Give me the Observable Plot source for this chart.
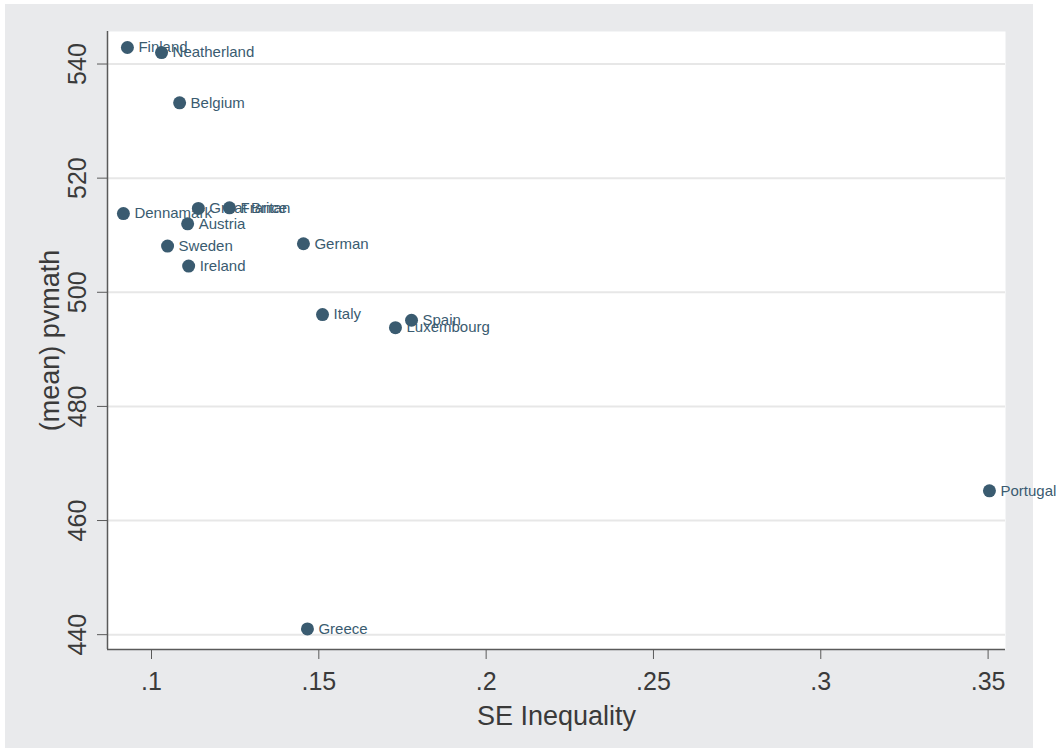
<!DOCTYPE html>
<html>
<head>
<meta charset="utf-8">
<script src="https://cdn.jsdelivr.net/npm/d3@7"></script>
<script src="https://cdn.jsdelivr.net/npm/@observablehq/plot@0.6"></script>
<style>
  html, body { margin: 0; padding: 0; background: #ffffff; }
  #wrap { position: relative; width: 1056px; height: 749px; overflow: hidden; }
  #bg { position: absolute; left: 5px; top: 4px; width: 1028px; height: 744px; background: #e9eaec; }
  #chart { position: absolute; left: 0; top: 0; }
</style>
</head>
<body>
<div id="wrap"><div id="bg"></div><div id="chart"></div></div>
<script>
// Data
const countries = ["Finland", "Neatherland", "Belgium", "Dennamark", "Great Britan", "France", "Austria", "Sweden", "Ireland", "German", "Italy", "Spain", "Luxembourg", "Greece", "Portugal"];
const seInequality = [0.0928, 0.1030, 0.1084, 0.0916, 0.1140, 0.1233, 0.1108, 0.1048, 0.1111, 0.1454, 0.1511, 0.1777, 0.1729, 0.1466, 0.3504];
const pvmath = [542.9, 542.0, 533.2, 513.8, 514.7, 514.8, 512.0, 508.1, 504.6, 508.5, 496.1, 495.1, 493.8, 441.0, 465.2];

const xTicks = [0.1, 0.15, 0.2, 0.25, 0.3, 0.35];
const yTicks = [440, 460, 480, 500, 520, 540];
const xDomain = [0.08685, 0.3552];
const yDomain = [437.4, 545.7];
const xTitle = "SE Inequality";
const yTitle = "(mean) pvmath";

const data = countries.map((c, i) => ({country: c, x: seInequality[i], y: pvmath[i]}));

const ink = "#3a5b70";
const axisInk = "#5a5a5a";
const textInk = "#3a3a3a";
const fmtX = d => String(d).replace(/^0/, "");

const chart = Plot.plot({
  width: 1056,
  height: 749,
  marginLeft: 107,
  marginRight: 51,
  marginTop: 31,
  marginBottom: 100,
  style: {background: "transparent", overflow: "visible", fontFamily: "'Liberation Sans', Arial, sans-serif"},
  x: {domain: xDomain, type: "linear"},
  y: {domain: yDomain, type: "linear"},
  marks: [
    Plot.frame({fill: "white", stroke: null}),
    Plot.gridY(yTicks, {stroke: "#e7e7e7", strokeWidth: 2, strokeOpacity: 1}),
    Plot.axisX({ticks: xTicks, tickSize: 10, tickPadding: 13, tickFormat: fmtX, fontSize: 25, fill: textInk, stroke: axisInk, label: null}),
    Plot.axisY({ticks: yTicks, tickSize: 10, tickFormat: () => "", stroke: axisInk, label: null}),
    Plot.text(yTicks, {y: d => d, text: d => String(d), frameAnchor: "left", dx: -22, rotate: -90, textAnchor: "middle", lineAnchor: "bottom", fontSize: 25, fill: textInk}),
    Plot.ruleX([xDomain[0]], {stroke: axisInk, strokeWidth: 1.5}),
    Plot.ruleY([yDomain[0]], {stroke: axisInk, strokeWidth: 1.5}),
    Plot.text([xTitle], {frameAnchor: "bottom", dy: 75, textAnchor: "middle", lineAnchor: "bottom", fontSize: 27, fill: textInk}),
    Plot.text([yTitle], {frameAnchor: "left", dx: -49, rotate: -90, textAnchor: "middle", lineAnchor: "bottom", fontSize: 27, fill: textInk}),
    Plot.dot(data, {x: "x", y: "y", r: 6.5, fill: ink, stroke: null}),
    Plot.text(data, {x: "x", y: "y", text: "country", dx: 11, textAnchor: "start", fontSize: 15, fill: ink})
  ]
});
document.getElementById("chart").appendChild(chart);
</script>
</body>
</html>
